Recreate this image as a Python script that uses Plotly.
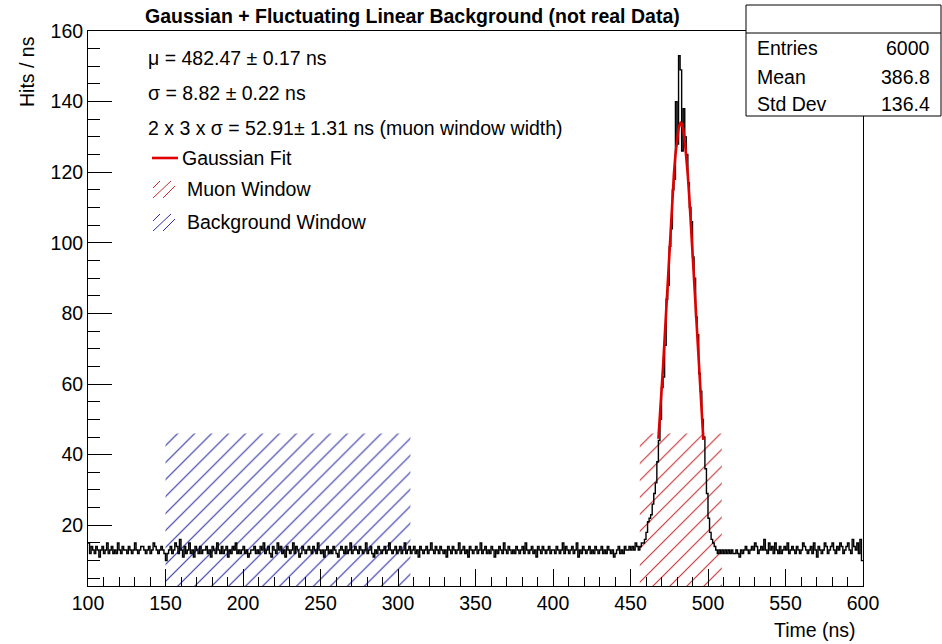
import plotly.graph_objects as go

# ---------------- data ----------------
BIN_START = 100   # first bin low edge (ns)
BIN_WIDTH = 1     # ns

background_left = [
    15,12,14,13,12,14,13,11,13,14,12,13,15,12,13,14,12,13,12,15,13,12,14,13,13,
    12,14,13,12,13,15,13,12,13,14,14,13,12,13,14,12,13,15,14,13,12,13,14,13,12,
    10,12,13,14,12,13,15,14,12,16,13,11,14,12,13,15,12,13,11,14,13,12,14,12,13,
    13,14,12,13,11,14,13,12,15,13,12,14,12,13,14,11,13,12,14,13,15,12,13,12,13,
    14,12,13,11,12,13,13,14,12,13,12,14,13,15,12,13,14,12,11,14,13,12,15,13,14,
    12,13,11,14,13,12,13,15,12,14,13,11,12,14,13,12,13,14,13,12,14,13,12,15,13,
    12,13,11,13,14,12,13,12,14,13,12,11,13,14,13,12,14,12,13,15,12,13,14,13,12,
    14,13,12,13,15,12,13,14,12,11,13,12,14,13,12,13,14,12,13,15,13,12,13,14,12,
    13,14,12,13,15,12,13,14,12,13,14,12,13,11,14,13,12,13,14,12,13,15,13,12,14,
    13,12,14,13,12,13,11,14,13,12,14,13,12,13,15,12,13,14,12,13,11,14,13,12,13,
    14,12,13,15,12,13,14,12,13,12,14,13,11,13,12,14,13,12,15,13,12,14,13,12,13,
    12,14,13,12,13,14,12,15,13,12,13,14,12,13,11,14,13,12,14,13,12,13,14,12,13,
    13,12,14,13,12,13,15,12,14,13,12,13,14,12,13,15,11,13,12,14,13,12,13,14,12,
    13,12,14,13,12,13,14,12,13,12,14,13,12,13,11,12,13,14,12,13,12,14,13,13,14,
    13,14,13,15,14,13,
]
peak_region = [  # 456 .. 508 ns
    14,15,15,16,18,21,22,23,26,29,32,38,44,50,59,62,71,84,88,99,104,115,118,140,
    128,153,149,126,138,130,125,117,110,106,96,90,79,74,63,58,50,45,36,29,22,18,
    16,15,14,13,12,13,12,
]
background_right = [
    13,12,13,12,13,12,13,12,12,13,12,11,13,12,13,14,13,12,13,14,13,15,14,12,13,
    14,13,16,13,12,15,13,14,12,15,13,12,14,12,13,14,13,15,12,13,14,13,12,14,13,
    12,13,15,14,13,12,13,14,12,15,13,11,14,13,12,13,15,14,12,13,14,15,13,12,14,
    13,15,14,12,13,14,15,13,12,16,14,13,15,12,16,10,
]
hits = background_left + peak_region + background_right

# Gaussian fit curve (time in ns, hits/ns)
fit_time = [468,469,470,471,472,473,474,475,476,477,478,479,480,481,482,482.47,
            483,484,485,486,487,488,489,490,491,492,493,494,495,496,497]
fit_value = [44.5,50.7,57.5,64.9,72.8,81.0,89.3,97.5,105.5,112.8,119.4,125.0,129.4,
             132.3,133.8,134.0,133.8,132.2,129.1,124.7,119.0,112.4,105.0,97.0,88.8,
             80.5,72.3,64.5,57.1,50.3,44.2]

# windows (ns) and hatch height (hits/ns)
muon_window = [456.0, 508.9]
background_window = [150.0, 308.0]
window_height = 46

title_text = "Gaussian + Fluctuating Linear Background (not real Data)"
fit_lines = ["\u03bc = 482.47 \u00b1 0.17 ns",
             "\u03c3 = 8.82 \u00b1 0.22 ns",
             "2 x 3 x \u03c3 = 52.91\u00b1 1.31 ns (muon window width)"]
legend_labels = ["Gaussian Fit", "Muon Window", "Background Window"]
stats_labels = ["Entries", "Mean", "Std Dev"]
stats_values = ["6000", "386.8", "136.4"]

X_RANGE = [100, 600]
Y_RANGE = [2.8, 160]

# ---------------- geometry helpers (pixels -> paper) ----------------
W, H = 942, 644
ML, MR, MT, MB = 88, 79, 31, 58
PW, PH = W - ML - MR, H - MT - MB
def px(x): return (x - ML) / PW
def py(y): return (H - MB - y) / PH

FONT = "Liberation Sans, Arial, Helvetica, sans-serif"
FS = 19.5
RED = "rgb(225,0,0)"
HATCH_RED = "rgb(200,45,45)"
HATCH_BLUE = "rgb(45,45,165)"

fig = go.Figure()

def hatch(win, color):
    x0, x1 = win
    fig.add_trace(go.Scatter(
        x=[x0, x1, x1, x0, x0], y=[Y_RANGE[0], Y_RANGE[0], window_height, window_height, Y_RANGE[0]],
        mode="lines", fill="toself", line=dict(width=0, color="rgba(0,0,0,0)"),
        fillcolor="rgba(0,0,0,0)",
        fillpattern=dict(shape="/", fgcolor=color, fgopacity=1, bgcolor="rgba(0,0,0,0)",
                         size=12, solidity=0.09),
        hoverinfo="skip", showlegend=False))

hatch(background_window, HATCH_BLUE)
hatch(muon_window, HATCH_RED)

edges = [BIN_START + i * BIN_WIDTH for i in range(len(hits) + 1)]
fig.add_trace(go.Scatter(
    x=edges, y=hits + [hits[-1]], mode="lines", line=dict(shape="hv", color="black", width=1.4),
    showlegend=False, hoverinfo="skip"))

fig.add_trace(go.Scatter(
    x=fit_time, y=fit_value, mode="lines", line=dict(color=RED, width=2.6),
    showlegend=False, hoverinfo="skip"))

axis_common = dict(showgrid=False, zeroline=False, showline=True, linecolor="black", linewidth=1,
                   mirror=True, ticks="inside", tickcolor="black", tickwidth=1,
                   tickfont=dict(family=FONT, size=FS, color="black"))

fig.update_xaxes(range=X_RANGE, tick0=100, dtick=50, ticklen=17,
                 minor=dict(dtick=10, ticklen=9, ticks="inside", tickcolor="black", tickwidth=1),
                 **axis_common)
fig.update_yaxes(range=Y_RANGE, tick0=0, dtick=20, ticklen=24,
                 minor=dict(dtick=5, ticklen=12, ticks="inside", tickcolor="black", tickwidth=1),
                 **axis_common)

annotations = []
def text(x, y, s, xanchor="left", size=FS, bold=False, angle=0):
    annotations.append(dict(
        x=px(x), y=py(y), xref="paper", yref="paper", text=f"<b>{s}</b>" if bold else s,
        showarrow=False, xanchor=xanchor, yanchor="middle", textangle=angle,
        font=dict(family=FONT, size=size, color="black")))

text(412, 16, title_text, xanchor="center", bold=True)
for s, yy in zip(fit_lines, [58, 93, 128]):
    text(146, yy, s)
text(180, 158, legend_labels[0])
text(185, 189, legend_labels[1])
text(185, 222, legend_labels[2])
for s, v, yy in zip(stats_labels, stats_values, [48, 77, 104]):
    text(755, yy, s)
    text(932, yy, v, xanchor="right")
text(27, 72, "Hits / ns", xanchor="center", angle=-90)
text(858, 630, "Time (ns)", xanchor="right")

shapes = []
# stats box
shapes.append(dict(type="rect", xref="paper", yref="paper", x0=px(746), x1=px(941), y0=py(5), y1=py(116),
                   fillcolor="white", line=dict(color="black", width=1), layer="above"))
shapes.append(dict(type="line", xref="paper", yref="paper", x0=px(746), x1=px(941), y0=py(33), y1=py(33),
                   line=dict(color="black", width=1), layer="above"))
# legend: fit line sample
shapes.append(dict(type="line", xref="paper", yref="paper", x0=px(152), x1=px(178), y0=py(158), y1=py(158),
                   line=dict(color=RED, width=2.6), layer="above"))
# legend: hatch samples (three short diagonal strokes)
def hatch_sample(yc, color):
    segs = [(153, yc - 1, 160, yc - 8), (153, yc + 9, 171, yc - 8), (163, yc + 9, 175, yc - 3)]
    for (xa, ya, xb, yb) in segs:
        shapes.append(dict(type="line", xref="paper", yref="paper",
                           x0=px(xa), x1=px(xb), y0=py(ya), y1=py(yb),
                           line=dict(color=color, width=1.0), layer="above"))
hatch_sample(189, HATCH_RED)
hatch_sample(222, HATCH_BLUE)

fig.update_layout(
    width=W, height=H, margin=dict(l=ML, r=MR, t=MT, b=MB),
    paper_bgcolor="white", plot_bgcolor="white", showlegend=False,
    annotations=annotations, shapes=shapes,
    font=dict(family=FONT, size=FS, color="black"))

fig.write_html("out.html")
